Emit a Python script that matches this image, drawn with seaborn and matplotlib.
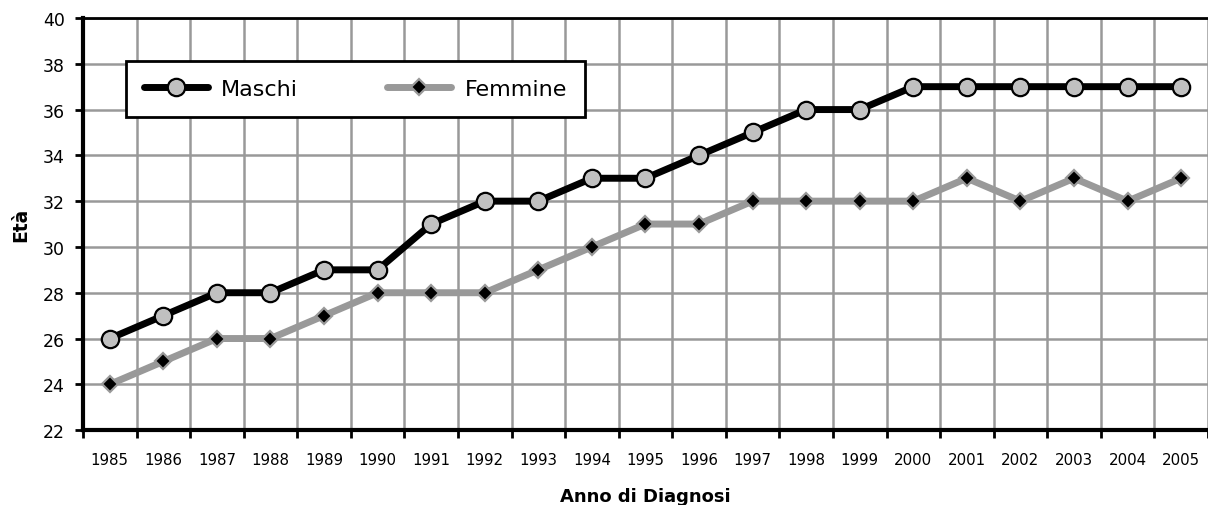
import numpy as np
import pandas as pd
import seaborn as sns
import matplotlib.pyplot as plt

anni = [str(a) for a in range(1985, 2006)]
maschi = [26, 27, 28, 28, 29, 29, 31, 32, 32, 33, 33, 34, 35, 36, 36, 37, 37, 37, 37, 37, 37]
femmine = [24, 25, 26, 26, 27, 28, 28, 28, 29, 30, 31, 31, 32, 32, 32, 32, 33, 32, 33, 32, 33]

sns.set_theme(style="white")
plt.rcParams['font.family'] = ['DejaVu Sans']
plt.rcParams['text.color'] = 'black'
plt.rcParams['axes.labelcolor'] = 'black'
plt.rcParams['xtick.color'] = 'black'
plt.rcParams['ytick.color'] = 'black'

pos = np.arange(len(anni))
df_m = pd.DataFrame({'pos': pos, 'eta': maschi})
df_f = pd.DataFrame({'pos': pos, 'eta': femmine})

fig = plt.figure(figsize=(12.08, 5.06), dpi=100)
ax = fig.add_axes([0.0687, 0.148, 0.9313, 0.8145])

sns.lineplot(data=df_m, x='pos', y='eta', ax=ax, color='black', linewidth=5,
             marker='o', markersize=12.5, markerfacecolor='#c0c0c0',
             markeredgecolor='black', markeredgewidth=1.6, label='Maschi', zorder=4)
sns.lineplot(data=df_f, x='pos', y='eta', ax=ax, color='#999999', linewidth=5,
             marker='D', markersize=8, markerfacecolor='black',
             markeredgecolor='#999999', markeredgewidth=1.6, label='Femmine', zorder=3)

ax.set_xlim(-0.5, len(anni) - 0.5)
ax.set_ylim(22, 40)
ax.set_xticks(pos)
ax.set_xticklabels(anni, fontsize=10.8)
ax.set_xticks(np.arange(-0.5, len(anni)), minor=True)
ax.set_yticks(range(22, 41, 2))
ax.tick_params(axis='y', labelsize=12.5, length=6, width=2, direction='out', left=True, pad=7)
ax.tick_params(axis='x', which='major', length=0, pad=16)
ax.tick_params(axis='x', which='minor', length=6, width=2, direction='out', bottom=True)

ax.grid(axis='y', which='major', color='#999999', linewidth=1.8)
ax.grid(axis='x', which='minor', color='#999999', linewidth=1.8)
ax.set_axisbelow(True)

for s in ['left', 'bottom']:
    ax.spines[s].set_color('black')
    ax.spines[s].set_linewidth(3)
ax.spines['top'].set_color('black')
ax.spines['top'].set_linewidth(2)
ax.spines['right'].set_visible(False)

ax.set_xlabel('Anno di Diagnosi', fontsize=13, fontweight='bold', labelpad=14)
ax.set_ylabel('Età', fontsize=13.5, fontweight='bold', labelpad=9)

leg = ax.legend(loc='upper left', bbox_to_anchor=(0.038, 0.767, 0.408, 0.1286), mode='expand',
                borderaxespad=0, ncol=2, fontsize=16, frameon=True, fancybox=False,
                edgecolor='black', framealpha=1, handlelength=2.9, borderpad=0.8,
                handletextpad=0.6)
leg.get_frame().set_linewidth(2)

fig.savefig('out.png', dpi=100)
